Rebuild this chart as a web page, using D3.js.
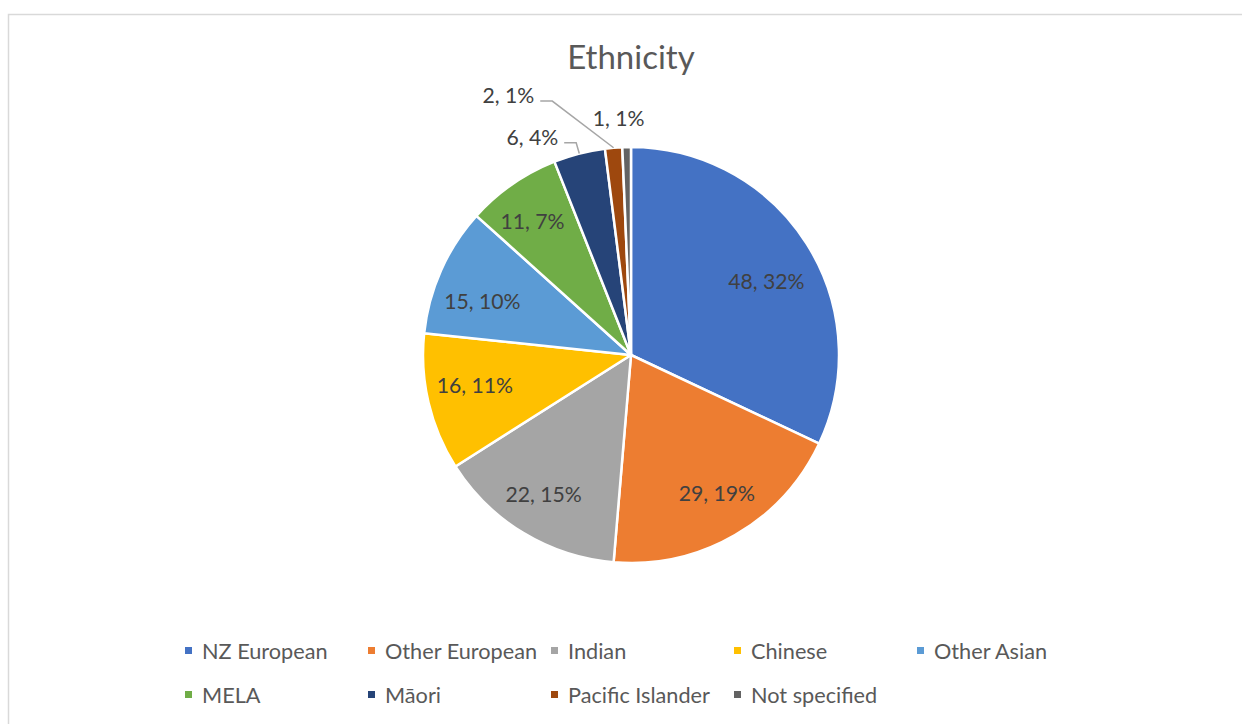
<!DOCTYPE html>
<html>
<head>
<meta charset="utf-8">
<script src="https://cdn.jsdelivr.net/npm/d3@7"></script>
<style>
  html, body { margin: 0; padding: 0; background: #fff; }
  svg { display: block; }
</style>
</head>
<body>
<svg id="chart" width="1242" height="724"></svg>
<script>
// Ethnicity breakdown (counts)
const categories = ["NZ European", "Other European", "Indian", "Chinese", "Other Asian", "MELA", "Māori", "Pacific Islander", "Not specified"];
const counts = [48, 29, 22, 16, 15, 11, 6, 2, 1];
const colors = ["#4472C4", "#ED7D31", "#A5A5A5", "#FFC000", "#5B9BD5", "#70AD47", "#264478", "#9E480E", "#636363"];

const W = 1242, H = 724;
const cx = 631, cy = 355, R = 208;
const font = "Lato, 'Open Sans', sans-serif";

// Data-label placement: distance from centre and angular shift (degrees) from the slice's mid-angle.
// The three smallest slices are labelled outside the pie; two of them get leader lines.
const labelPlacement = {
  "NZ European":      { r: 154, shift: 3.9 },
  "Other European":   { r: 163, shift: -1.8 },
  "Indian":           { r: 165, shift: 0.8 },
  "Chinese":          { r: 159, shift: 2.2 },
  "Other Asian":      { r: 158, shift: -4.2 },
  "MELA":             { r: 166, shift: -1.6 },
  "Māori":            { r: 239, shift: -10.0, leader: true },
  "Pacific Islander": { r: 287, shift: -20.5, leader: true },
  "Not specified":    { r: 237, shift: -1.8 }
};

const svg = d3.select("#chart");

// chart area frame
svg.append("rect")
  .attr("x", 8.5).attr("y", 14.5)
  .attr("width", W + 20).attr("height", H + 20)
  .attr("fill", "#fff").attr("stroke", "#d9d9d9").attr("stroke-width", 1.5);

svg.append("text")
  .attr("x", cx).attr("y", 69)
  .attr("text-anchor", "middle")
  .attr("font-family", font).attr("font-size", 33)
  .attr("fill", "#595959")
  .text("Ethnicity");

const total = d3.sum(counts);
const data = categories.map((c, i) => ({ name: c, value: counts[i], color: colors[i] }));

const pie = d3.pie().value(d => d.value).sort(null);
const arcs = pie(data);
const arc = d3.arc().innerRadius(0).outerRadius(R);

const g = svg.append("g").attr("transform", `translate(${cx},${cy})`);

g.selectAll("path.slice")
  .data(arcs)
  .join("path")
  .attr("class", "slice")
  .attr("d", arc)
  .attr("fill", d => d.data.color)
  .attr("stroke", "#fff")
  .attr("stroke-width", 2.5)
  .attr("stroke-linejoin", "round");

const labelText = d => `${d.data.value}, ${Math.round(d.data.value / total * 100)}%`;

arcs.forEach(d => {
  const p = labelPlacement[d.data.name];
  const mid = (d.startAngle + d.endAngle) / 2;
  const a = mid + p.shift * Math.PI / 180;
  const x = p.r * Math.sin(a);
  const y = -p.r * Math.cos(a);

  const t = g.append("text")
    .attr("x", x).attr("y", y)
    .attr("dy", "0.35em")
    .attr("text-anchor", "middle")
    .attr("font-family", font).attr("font-size", 21.2)
    .attr("fill", "#404040")
    .text(labelText(d));

  if (p.leader) {
    const bb = t.node().getBBox();
    const edge = bb.x + bb.width;
    const px = R * Math.sin(mid), py = -R * Math.cos(mid);
    g.append("polyline")
      .attr("points", [[edge + 6, y + 5.5], [edge + 18, y + 5.5], [px, py]].map(q => q.join(",")).join(" "))
      .attr("fill", "none")
      .attr("stroke", "#a6a6a6")
      .attr("stroke-width", 1.5);
  }
});

// legend: five columns, two rows
const legX = d3.scalePoint().domain(d3.range(5)).range([185, 917]);
const legY = d3.scalePoint().domain([0, 1]).range([651, 695]);

const leg = svg.append("g").selectAll("g")
  .data(data)
  .join("g")
  .attr("transform", (d, i) => `translate(${legX(i % 5)},${legY(Math.floor(i / 5))})`);

leg.append("rect")
  .attr("x", 0).attr("y", -4)
  .attr("width", 7).attr("height", 7)
  .attr("fill", d => d.color);

leg.append("text")
  .attr("x", 17).attr("y", 0)
  .attr("dy", "0.35em")
  .attr("font-family", font).attr("font-size", 21.7)
  .attr("fill", "#595959")
  .text(d => d.name);
</script>
</body>
</html>
